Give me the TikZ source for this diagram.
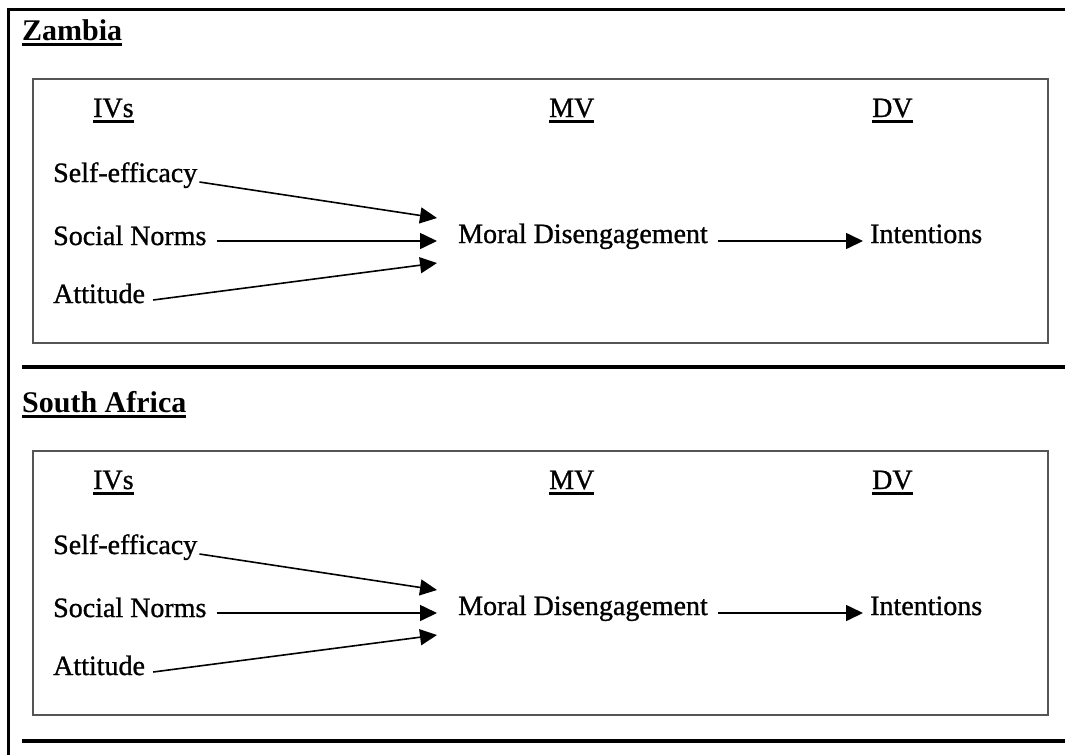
\documentclass[tikz,border=0pt]{standalone}
\usepackage{fontspec}
\setmainfont{Liberation Serif}
\newfontfamily\labelfont[FakeBold=1]{Liberation Serif}
\usetikzlibrary{arrows.meta}
\definecolor{boxgray}{RGB}{85,85,85}
\newcommand{\ulin}[1]{\setbox0=\hbox{#1}\rlap{\copy0}\raisebox{-6pt}{\rule{\wd0}{3pt}}}

\begin{document}
\begin{tikzpicture}[x=1pt, y=-1pt,
    lbl/.style={inner sep=0pt, anchor=base west, font=\labelfont\fontsize{28}{31}\selectfont},
    head/.style={inner sep=0pt, anchor=base west, font=\fontsize{30}{34}\selectfont\bfseries},
    arr/.style={line width=1.6pt, -{Triangle[length=17pt,width=16pt]}}]
  \useasboundingbox (0,0) rectangle (1065,755);
  % outer frame and rules
  \draw[line width=3pt] (8,755) -- (8,9) -- (1065,9);
  \draw[line width=4pt] (22,367) -- (1065,367);
  \draw[line width=4pt] (22,741) -- (1065,741);
  % one panel per country
  \foreach \off/\cty/\t in {0/Zambia/z, 372/South Africa/s} {
    \begin{scope}[yshift=-\off pt]
      \node[head] (hd\t) at (22,40) {\ulin{\cty}};
      \draw[boxgray, line width=2pt] (33,79) rectangle (1048,343);
      \node[lbl] (iv\t) at (93,117) {\ulin{IVs}};
      \node[lbl] (mv\t) at (549,117) {\ulin{MV}};
      \node[lbl] (dv\t) at (872,117) {\ulin{DV}};
      \node[lbl] (se\t) at (53,182) {Self-efficacy};
      \node[lbl] (sn\t) at (53,245) {Social Norms};
      \node[lbl] (at\t) at (53,303) {Attitude};
      \node[lbl] (md\t) at (458,243) {Moral Disengagement};
      \node[lbl] (in\t) at (870,243) {Intentions};
      \draw[arr] ([xshift=2pt]se\t.base east) -- ([xshift=-21pt,yshift=25pt]md\t.base west);
      \draw[arr] ([xshift=10pt,yshift=4pt]sn\t.base east) -- ([xshift=-21pt,yshift=2pt]md\t.base west);
      \draw[arr] ([xshift=8pt,yshift=3pt]at\t.base east) -- ([xshift=-21pt,yshift=-20pt]md\t.base west);
      \draw[arr] ([xshift=10pt,yshift=2pt]md\t.base east) -- ([xshift=-7pt,yshift=2pt]in\t.base west);
    \end{scope}
  }
\end{tikzpicture}
\end{document}
